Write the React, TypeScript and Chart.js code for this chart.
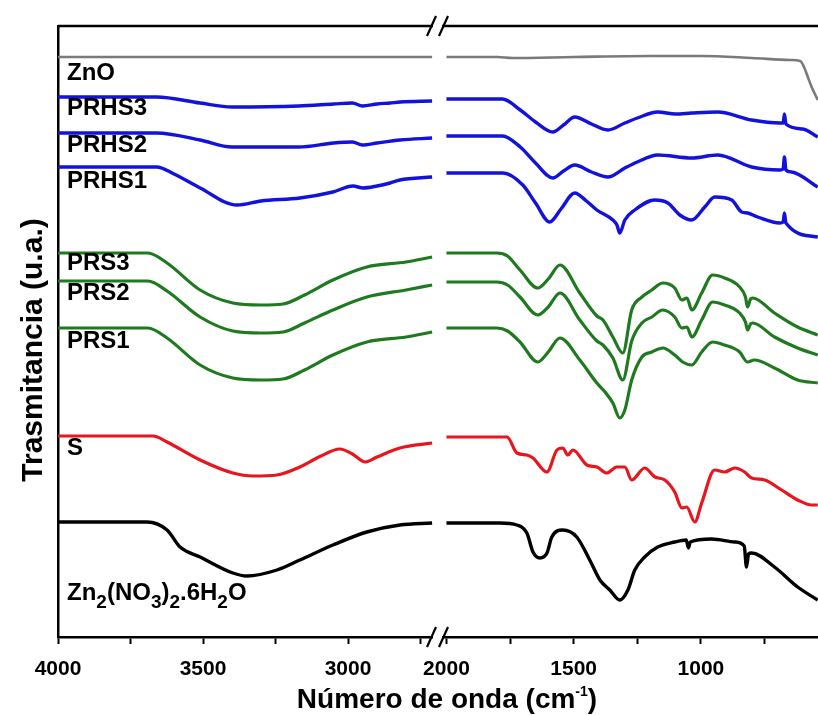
import React, { useEffect, useRef } from "react";
import { Chart, registerables } from "chart.js";
Chart.register(...registerables);

type Pt = [number, number];

// x: wavenumber (cm-1), y: transmittance (a.u., curves vertically offset)
const ZNO_L: Pt[] = [[4000, 580], [3500, 580], [3000, 580], [2710, 580]];
const ZNO_R: Pt[] = [[2000, 580], [1800, 580], [1740, 579], [1500, 580], [1200, 581], [1000, 581], [800, 579], [650, 577], [610, 576], [595, 570], [580, 560], [565, 550], [541, 537]];

const PRHS3_L: Pt[] = [[4000, 540], [3660, 540], [3510, 534], [3400, 530], [3170, 531], [3050, 533], [2985, 534], [2950, 531], [2900, 533], [2855, 534], [2820, 535], [2710, 536]];
const PRHS3_R: Pt[] = [[2000, 538], [1780, 538], [1710, 527], [1650, 515], [1582, 505], [1540, 512], [1496, 520], [1430, 513], [1366, 507], [1299, 514], [1250, 519], [1170, 525], [1100, 523], [1036, 524], [934, 525], [801, 517], [690, 514], [677, 514], [672, 523], [666, 513], [600, 508], [541, 500]];

const PRHS2_L: Pt[] = [[4000, 504], [3660, 504], [3510, 497], [3400, 490], [3170, 490], [3050, 494], [2985, 495], [2950, 492], [2900, 494], [2820, 497], [2710, 499]];
const PRHS2_R: Pt[] = [[2000, 501], [1780, 501], [1710, 490], [1650, 474], [1582, 459], [1540, 466], [1496, 472], [1430, 465], [1366, 460], [1299, 469], [1250, 475], [1170, 482], [1036, 479], [934, 482], [801, 470], [690, 467], [677, 468], [672, 480], [666, 467], [644, 465], [541, 450]];

const PRHS1_L: Pt[] = [[4000, 470], [3660, 470], [3600, 463], [3510, 449], [3383, 432], [3300, 436], [3166, 439], [3052, 445], [2983, 451], [2948, 449], [2900, 451], [2855, 454], [2821, 457], [2710, 460]];
const PRHS1_R: Pt[] = [[2000, 464], [1778, 464], [1700, 452], [1650, 434], [1594, 415], [1550, 428], [1496, 444], [1450, 436], [1409, 427], [1346, 417], [1330, 412], [1319, 404], [1299, 417], [1260, 427], [1181, 437], [1130, 434], [1083, 422], [1036, 417], [985, 430], [946, 440], [879, 437], [840, 425], [817, 424], [777, 420], [690, 414], [677, 415], [672, 424], [666, 414], [541, 400]];

const PRS3_L: Pt[] = [[4000, 384], [3690, 384], [3624, 374], [3510, 347], [3397, 334], [3300, 332], [3224, 333], [3150, 342], [3052, 357], [2935, 370], [2800, 375], [2710, 380]];
const PRS3_R: Pt[] = [[2000, 384], [1802, 384], [1760, 381], [1711, 367], [1641, 349], [1600, 358], [1554, 372], [1476, 344], [1409, 321], [1385, 317], [1346, 300], [1307, 284], [1272, 327], [1232, 340], [1193, 347], [1150, 354], [1103, 349], [1075, 337], [1055, 339], [1036, 327], [997, 344], [954, 362], [907, 359], [848, 350], [825, 340], [817, 330], [805, 338], [797, 339], [711, 324], [620, 310], [541, 302]];

const PRS2_L: Pt[] = [[4000, 356], [3690, 356], [3624, 346], [3510, 320], [3397, 306], [3300, 304], [3224, 305], [3150, 314], [3052, 327], [2935, 340], [2800, 347], [2710, 352]];
const PRS2_R: Pt[] = [[2000, 355], [1802, 355], [1760, 352], [1711, 340], [1641, 322], [1600, 330], [1554, 344], [1476, 317], [1409, 296], [1385, 292], [1346, 279], [1307, 257], [1272, 296], [1232, 314], [1193, 320], [1150, 327], [1103, 320], [1075, 309], [1055, 310], [1036, 300], [997, 317], [954, 335], [907, 332], [848, 324], [825, 315], [817, 307], [805, 313], [797, 314], [711, 300], [620, 289], [541, 282]];

const PRS1_L: Pt[] = [[4000, 309], [3690, 309], [3624, 299], [3510, 272], [3397, 259], [3300, 257], [3224, 258], [3150, 267], [3052, 282], [2935, 295], [2800, 300], [2710, 305]];
const PRS1_R: Pt[] = [[2000, 309], [1802, 309], [1760, 306], [1711, 295], [1641, 275], [1600, 285], [1554, 299], [1476, 277], [1409, 254], [1377, 245], [1346, 234], [1319, 219], [1299, 227], [1272, 257], [1232, 280], [1193, 285], [1150, 289], [1103, 282], [1072, 275], [1036, 272], [997, 285], [954, 295], [907, 292], [848, 285], [817, 275], [790, 277], [711, 269], [620, 257], [541, 254]];

const S_L: Pt[] = [[4000, 201], [3672, 201], [3624, 195], [3510, 177], [3397, 164], [3328, 161], [3245, 162], [3166, 170], [3100, 180], [3028, 188], [2985, 183], [2941, 175], [2900, 180], [2821, 189], [2710, 194]];
const S_R: Pt[] = [[2000, 200], [1762, 200], [1723, 184], [1684, 182], [1660, 179], [1605, 165], [1566, 187], [1543, 189], [1523, 182], [1503, 187], [1448, 172], [1409, 170], [1370, 164], [1331, 170], [1299, 170], [1272, 157], [1221, 169], [1181, 160], [1142, 157], [1103, 145], [1075, 129], [1056, 130], [1024, 115], [997, 134], [946, 167], [907, 165], [867, 169], [828, 165], [801, 159], [750, 157], [683, 147], [620, 137], [565, 132], [541, 132]];

const ZNN_L: Pt[] = [[4000, 115], [3693, 115], [3624, 107], [3579, 90], [3510, 80], [3397, 64], [3348, 61], [3245, 67], [3166, 77], [3052, 92], [2935, 105], [2821, 112], [2710, 114]];
const ZNN_R: Pt[] = [[2000, 114], [1790, 114], [1723, 112], [1684, 104], [1660, 85], [1633, 79], [1605, 84], [1586, 100], [1543, 107], [1488, 100], [1437, 77], [1397, 57], [1358, 47], [1319, 37], [1287, 47], [1260, 67], [1221, 80], [1170, 90], [1103, 95], [1058, 97], [1049, 89], [1042, 95], [958, 98], [867, 95], [830, 91], [821, 70], [813, 83], [801, 84], [711, 70], [620, 50], [541, 37]];

const SERIES_NAMES = ["ZnO", "PRHS3", "PRHS2", "PRHS1", "PRS3", "PRS2", "PRS1", "S", "Zn2(NO3)2.6H2O"];
const SERIES_COLORS = ["#7a7a7a", "#1212dc", "#1212dc", "#1212dc", "#1f7a1f", "#1f7a1f", "#1f7a1f", "#e8141e", "#000000"];
const SERIES_WIDTHS = [2.6, 3.4, 3.4, 3.4, 3.2, 3.2, 3.2, 3.2, 3.4];
const SERIES_LEFT = [ZNO_L, PRHS3_L, PRHS2_L, PRHS1_L, PRS3_L, PRS2_L, PRS1_L, S_L, ZNN_L];
const SERIES_RIGHT = [ZNO_R, PRHS3_R, PRHS2_R, PRHS1_R, PRS3_R, PRS2_R, PRS1_R, S_R, ZNN_R];
// label text baselines, in y data units
const LABEL_BASE = [557, 522, 485, 449, 367, 337, 289, 182, 37];

const TICKS_L = [4000, 3750, 3500, 3250, 3000, 2750];
const TICKS_R = [2000, 1750, 1500, 1250, 1000, 750];
const X_TICKS_LABELLED = [4000, 3500, 3000, 2000, 1500, 1000];
const FONT = '"Liberation Sans", Arial, Helvetica, sans-serif';

const annotations = {
  id: "annotations",
  afterDraw(chart: any) {
    const ctx = chart.ctx as CanvasRenderingContext2D;
    const { left, top, right, bottom } = chart.chartArea;
    const ys = chart.scales.y;
    ctx.save();
    // top frame line
    ctx.strokeStyle = "#000";
    ctx.lineWidth = 2.5;
    ctx.beginPath();
    ctx.moveTo(left, top);
    ctx.lineTo(right, top);
    ctx.stroke();
    // axis break marks
    const bx = chart.scales.xL.right;
    for (const y of [top, bottom]) {
      ctx.fillStyle = "#fff";
      ctx.fillRect(bx - 2, y - 3, 9, 6);
      ctx.beginPath();
      ctx.lineWidth = 2.2;
      ctx.moveTo(bx - 8, y + 10);
      ctx.lineTo(bx + 1, y - 10);
      ctx.moveTo(bx + 4, y + 10);
      ctx.lineTo(bx + 13, y - 10);
      ctx.stroke();
    }
    // series labels
    ctx.fillStyle = "#000";
    ctx.textAlign = "left";
    ctx.textBaseline = "alphabetic";
    const lx = left + 9;
    for (let i = 0; i < SERIES_NAMES.length - 1; i++) {
      ctx.font = `bold 24px ${FONT}`;
      ctx.fillText(SERIES_NAMES[i], lx, ys.getPixelForValue(LABEL_BASE[i]));
    }
    // formula with subscripts
    const parts: [string, boolean][] = [["Zn", false], ["2", true], ["(NO", false], ["3", true], [")", false], ["2", true], [".6H", false], ["2", true], ["O", false]];
    let x = lx;
    const by = ys.getPixelForValue(LABEL_BASE[8]);
    for (const [t, sub] of parts) {
      ctx.font = sub ? `bold 19px ${FONT}` : `bold 24px ${FONT}`;
      ctx.fillText(t, x, sub ? by + 8 : by);
      x += ctx.measureText(t).width;
    }
    // x axis title
    const main = "Número de onda (cm";
    ctx.font = `bold 28px ${FONT}`;
    const w1 = ctx.measureText(main).width;
    const w3 = ctx.measureText(")").width;
    ctx.font = `bold 14px ${FONT}`;
    const w2 = ctx.measureText("-1").width;
    const total = w1 + w2 + w3;
    let tx = 447 - total / 2;
    const ty = 708;
    ctx.font = `bold 28px ${FONT}`;
    ctx.fillText(main, tx, ty);
    tx += w1;
    ctx.font = `bold 14px ${FONT}`;
    ctx.fillText("-1", tx, ty - 12);
    tx += w2;
    ctx.font = `bold 28px ${FONT}`;
    ctx.fillText(")", tx, ty);
    // y axis title
    ctx.translate(42, 350);
    ctx.rotate(-Math.PI / 2);
    ctx.textAlign = "center";
    ctx.font = `bold 30px ${FONT}`;
    ctx.fillText("Trasmitancia (u.a.)", 0, 0);
    ctx.restore();
  },
};

export default function App() {
  const ref = useRef<HTMLCanvasElement>(null);
  useEffect(() => {
    document.body.style.margin = "0";
    const canvas = ref.current!;
    const datasets: any[] = [];
    SERIES_NAMES.forEach((name, i) => {
      const common = {
        label: name,
        borderColor: SERIES_COLORS[i],
        backgroundColor: SERIES_COLORS[i],
        borderWidth: SERIES_WIDTHS[i],
        pointRadius: 0,
        fill: false,
        cubicInterpolationMode: "monotone",
        yAxisID: "y",
      };
      datasets.push({ ...common, xAxisID: "xL", data: SERIES_LEFT[i].map(([x, y]) => ({ x, y })) });
      datasets.push({ ...common, xAxisID: "xR", data: SERIES_RIGHT[i].map(([x, y]) => ({ x, y })) });
    });
    const xCommon = (min: number, max: number, weight: number, tickVals: number[]) => ({
      type: "linear" as const,
      position: "bottom" as const,
      stack: "x",
      stackWeight: weight,
      reverse: true,
      min,
      max,
      afterBuildTicks: (s: any) => {
        s.ticks = tickVals.map((v) => ({ value: v }));
      },
      afterFit: (s: any) => {
        s.height = 78;
        s.paddingLeft = 0;
        s.paddingRight = 0;
      },
      ticks: {
        autoSkip: false,
        maxRotation: 0,
        minRotation: 0,
        padding: 13,
        color: "#000",
        font: { family: FONT, size: 21, weight: "bold" },
        callback: (v: any) => (X_TICKS_LABELLED.includes(Number(v)) ? String(v) : ""),
      },
      grid: { display: true, drawOnChartArea: false, drawTicks: true, tickLength: 7, tickColor: "#000", tickWidth: 2 },
      border: { display: true, color: "#000", width: 2.5 },
    });
    const chart = new Chart(canvas, {
      type: "line",
      data: { datasets },
      options: {
        responsive: false,
        animation: false,
        devicePixelRatio: 1,
        layout: { padding: { top: 26, right: 0, bottom: 0, left: 0 } },
        plugins: { legend: { display: false }, tooltip: { enabled: false } },
        scales: {
          xL: xCommon(2700, 4000, 377, TICKS_L),
          xR: xCommon(540, 2045, 383, TICKS_R),
          y: {
            type: "linear",
            position: "left",
            min: 0,
            max: 611,
            afterFit: (s: any) => {
              s.width = 58;
            },
            ticks: { display: false },
            grid: { display: true, drawOnChartArea: false, drawTicks: false },
            border: { display: true, color: "#000", width: 2.5 },
          },
        },
      } as any,
      plugins: [annotations],
    });
    return () => chart.destroy();
  }, []);
  return <canvas ref={ref} width={818} height={715} style={{ display: "block" }} />;
}
